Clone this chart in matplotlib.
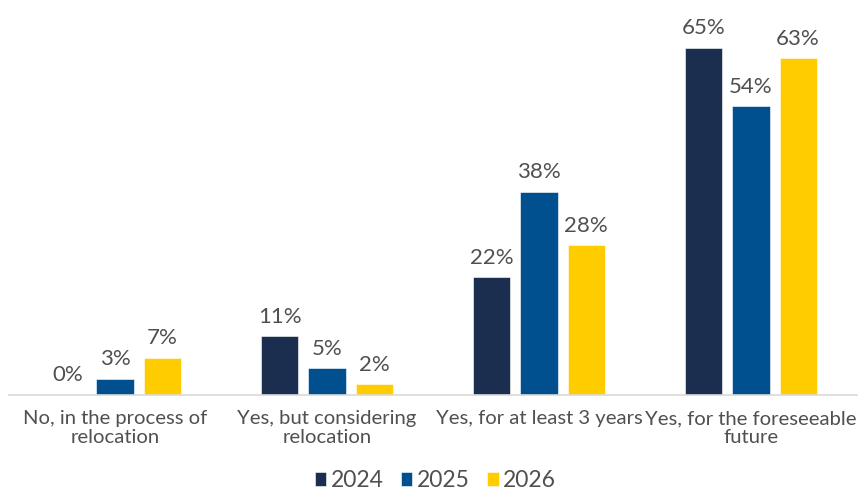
import matplotlib
matplotlib.use("Agg")
import matplotlib.pyplot as plt
import numpy as np

categories = ["No, in the process of\nrelocation",
              "Yes, but considering\nrelocation",
              "Yes, for at least 3 years",
              "Yes, for the foreseeable\nfuture"]
years = ["2024", "2025", "2026"]
values_2024 = [0, 11, 22, 65]
values_2025 = [3, 5, 38, 54]
values_2026 = [7, 2, 28, 63]
colors = ["#1B2E50", "#00508F", "#FFCC00"]

plt.rcParams["font.family"] = ["Lato", "DejaVu Sans"]
text_color = "#505050"

fig = plt.figure(figsize=(8.59, 4.94), dpi=100)
ax = fig.add_axes([9 / 859, 1 - 395 / 494, 848 / 859, (395 - 21) / 494])

x = np.arange(len(categories))
width = 0.175
step = 0.222
series = [values_2024, values_2025, values_2026]
for i, (vals, col, yr) in enumerate(zip(series, colors, years)):
    pos = x + (i - 1) * step
    ax.bar(pos, vals, width, color=col, label=yr, edgecolor="white", linewidth=0.4)
    for xp, v in zip(pos, vals):
        ax.text(xp, v + 1.8, f"{v}%", ha="center", va="bottom",
                fontsize=16, color=text_color)

ax.set_xlim(-0.5, len(categories) - 0.5)
ax.set_ylim(0, 70)
ax.set_yticks([])
ax.set_xticks(x)
ax.set_xticklabels(categories, fontsize=14.6, color=text_color, linespacing=1.12)
ax.tick_params(axis="x", length=0, pad=11)
for s in ["top", "right", "left"]:
    ax.spines[s].set_visible(False)
ax.spines["bottom"].set_color("#D9D9D9")
ax.spines["bottom"].set_linewidth(1.2)

leg = fig.legend(loc="lower center", ncol=3, frameon=False, fontsize=16.5,
                 bbox_to_anchor=(0.507, -0.036), handlelength=0.5, handleheight=0.5,
                 handletextpad=0.2, columnspacing=0.75)
for t in leg.get_texts():
    t.set_color(text_color)

fig.savefig("out.png", dpi=100)
